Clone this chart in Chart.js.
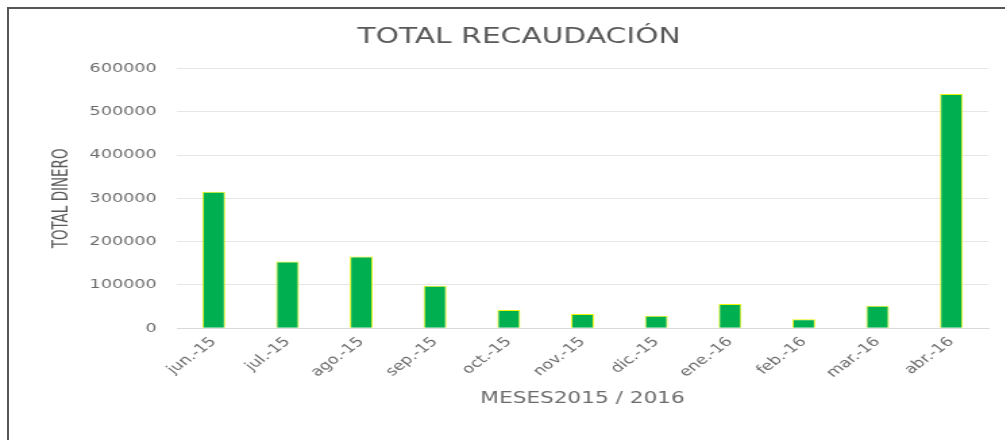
<!DOCTYPE html>
<html>
<head>
<meta charset="utf-8">
<script src="https://cdn.jsdelivr.net/npm/chart.js@4"></script>
<style>
  html, body { margin: 0; padding: 0; background: #fff; }
  #frame {
    position: absolute; left: 7px; top: 7px; width: 998px; height: 433px;
    border-top: 2px solid #555; border-left: 2px solid #555;
    box-sizing: border-box; pointer-events: none;
  }
  /* the original picture is stretched sideways, so the chart is too */
  #wrap {
    position: absolute; left: 0; top: 0; width: 744px; height: 440px;
    transform: scaleX(1.35); transform-origin: 0 0;
  }
</style>
</head>
<body>
<div id="wrap"><canvas id="chart"></canvas></div>
<div id="frame"></div>
<script>
const months = ['jun.-15', 'jul.-15', 'ago.-15', 'sep.-15', 'oct.-15', 'nov.-15',
                'dic.-15', 'ene.-16', 'feb.-16', 'mar.-16', 'abr.-16'];
const recaudacion = [315000, 154000, 166000, 98000, 42000, 33000,
                     29000, 56000, 21000, 52000, 541000];
const yTicks = [0, 100000, 200000, 300000, 400000, 500000, 600000];

const textGray = '#595959';

const ctx = document.getElementById('chart').getContext('2d');
new Chart(ctx, {
    type: 'bar',
    data: {
        labels: months,
        datasets: [{
            label: 'Total',
            data: recaudacion,
            backgroundColor: '#00B050',
            borderColor: '#EEF50A',
            borderWidth: 1,
            barPercentage: 0.31,
            categoryPercentage: 1
        }]
    },
    options: {
        responsive: true,
        maintainAspectRatio: false,
        animation: false,
        layout: {
            padding: { left: 37, right: 12, top: 24, bottom: 32 }
        },
        plugins: {
            legend: { display: false },
            tooltip: { enabled: false },
            title: {
                display: true,
                text: 'TOTAL RECAUDACIÓN',
                color: textGray,
                font: { family: 'DejaVu Sans', size: 22, weight: 'normal' },
                padding: { top: 0, bottom: 18 }
            }
        },
        scales: {
            x: {
                grid: { display: false, drawTicks: false },
                border: { color: '#d9d9d9' },
                ticks: {
                    color: '#6b6b6b',
                    font: { family: 'DejaVu Sans', size: 13 },
                    minRotation: 45,
                    maxRotation: 45,
                    padding: 6
                },
                title: {
                    display: true,
                    text: 'MESES2015 / 2016',
                    color: '#6b6b6b',
                    font: { family: 'DejaVu Sans', size: 16 },
                    padding: { top: 2, bottom: 0 }
                }
            },
            y: {
                min: 0,
                max: 600000,
                afterBuildTicks: (scale) => {
                    scale.ticks = yTicks.map(v => ({ value: v }));
                },
                afterFit: (scale) => { scale.width = 94; },
                grid: { color: '#e6e6e6', drawTicks: false },
                border: { display: false },
                ticks: {
                    color: '#6b6b6b',
                    font: { family: 'DejaVu Sans', size: 13 },
                    padding: 15,
                    callback: (value) => String(value)
                },
                title: {
                    display: true,
                    text: 'TOTAL DINERO',
                    color: textGray,
                    font: { family: "'Liberation Sans Narrow', 'DejaVu Sans Condensed', sans-serif", size: 15 },
                    padding: { top: 0, bottom: 0 }
                }
            }
        }
    }
});
</script>
</body>
</html>
